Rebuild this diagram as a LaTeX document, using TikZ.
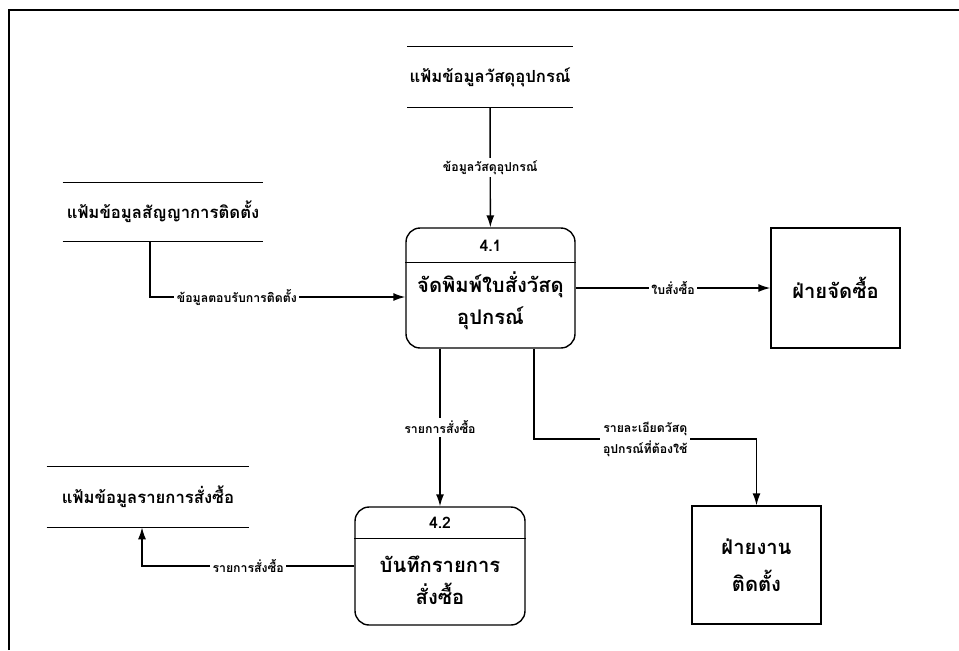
\documentclass[tikz,border=0pt]{standalone}
\usepackage{fontspec}
\setmainfont[Script=Thai]{Loma}
\usetikzlibrary{arrows.meta}

\begin{document}
\begin{tikzpicture}[x=0.02cm, y=-0.02cm,
	flow/.style={draw=black, line width=0.8pt, -{Latex[length=2.4mm, width=1.6mm]}},
	lbl/.style={fill=white, inner sep=1.5pt, align=center, font=\bfseries\fontsize{7}{12}\selectfont},
	storetext/.style={rectangle, inner sep=0pt, font=\bfseries\fontsize{9.5}{12}\selectfont},
	storeline/.style={line width=0.8pt},
	procbox/.style={rectangle, draw=black, line width=0.8pt, rounded corners=8pt, minimum width=3.38cm, minimum height=2.4cm},
	numtext/.style={font=\bfseries\fontsize{9}{11}\selectfont},
	proctext/.style={align=center, font=\bfseries\fontsize{11.5}{18}\selectfont},
	extbox/.style={rectangle, draw=black, line width=0.8pt, minimum width=2.58cm, minimum height=2.4cm, align=center, font=\bfseries\fontsize{11.5}{21}\selectfont}]
	\useasboundingbox (0,0) rectangle (959,650);
	\draw[line width=0.8pt] (9,650) -- (9,10) -- (959,10);
	% data stores
	\node[storetext, minimum width=3.3cm, minimum height=1.2cm](matStore) at (490,77){แฟ้มข้อมูลวัสดุอุปกรณ์};
	\draw[storeline] (matStore.north west) -- (matStore.north east);
	\draw[storeline] (matStore.south west) -- (matStore.south east);
	\node[storetext, minimum width=4cm, minimum height=1.16cm](contractStore) at (163,212){แฟ้มข้อมูลสัญญาการติดตั้ง};
	\draw[storeline] (contractStore.north west) -- (contractStore.north east);
	\draw[storeline] (contractStore.south west) -- (contractStore.south east);
	\node[storetext, minimum width=4.04cm, minimum height=1.2cm](orderStore) at (148,497){แฟ้มข้อมูลรายการสั่งซื้อ};
	\draw[storeline] (orderStore.north west) -- (orderStore.north east);
	\draw[storeline] (orderStore.south west) -- (orderStore.south east);
	% processes
	\node[procbox](p41) at (490.5,288){};
	\node[numtext](p41num) at (490.5,246){4.1};
	\draw[storeline] ([yshift=-0.7cm]p41.north west) -- ([yshift=-0.7cm]p41.north east);
	\node[proctext](p41name) at (490.5,301){จัดพิมพ์ใบสั่งวัสดุ\\อุปกรณ์};
	\node[procbox, minimum width=3.4cm, minimum height=2.36cm](p42) at (440,566){};
	\node[numtext](p42num) at (440,523){4.2};
	\draw[storeline] ([yshift=-0.64cm]p42.north west) -- ([yshift=-0.64cm]p42.north east);
	\node[proctext](p42name) at (440,580){บันทึกรายการ\\สั่งซื้อ};
	% external entities
	\node[extbox](buyDept) at (835.5,288){ฝ่ายจัดซื้อ};
	\node[extbox, minimum height=2.36cm](installDept) at (756.5,565){ฝ่ายงาน\\ติดตั้ง};
	% flows
	\coordinate(instBend) at (534,439);
	\draw[flow] (matStore) -- (p41) node[midway, lbl]{ข้อมูลวัสดุอุปกรณ์};
	\draw[flow] ([xshift=-0.26cm]contractStore.south) |- ([yshift=-0.18cm]p41.west) node[pos=0.67, lbl]{ข้อมูลตอบรับการติดตั้ง};
	\draw[flow] (p41.east) -- (buyDept.west) node[midway, lbl]{ใบสั่งซื้อ};
	\draw[flow] (p41.south -| p42.north) -- (p42.north) node[midway, lbl]{รายการสั่งซื้อ};
	\draw[flow] (p41.south -| instBend) -- (instBend) -| (installDept.north) node[pos=0.25, lbl]{รายละเอียดวัสดุ\\อุปกรณ์ที่ต้องใช้};
	\draw[flow] (p42.west) -| ([xshift=-0.12cm]orderStore.south) node[pos=0.25, lbl]{รายการสั่งซื้อ};
\end{tikzpicture}
\end{document}
